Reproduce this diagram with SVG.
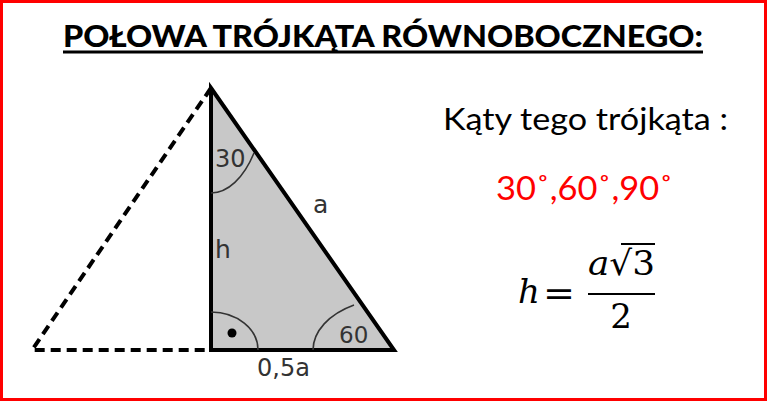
<svg xmlns="http://www.w3.org/2000/svg" width="767" height="402" viewBox="0 0 767 402">
<style>
.lbl{font-family:"DejaVu Sans",Verdana,sans-serif;fill:#333;}
.arc{fill:none;stroke:#333;stroke-width:1.6;}
.dash{fill:none;stroke:#000;stroke-width:4;stroke-dasharray:10 6;}
.txt{font-family:Lato,"Open Sans",sans-serif;}
.math{font-family:"DejaVu Serif","Liberation Serif",serif;font-size:34px;fill:#000;}
</style>
<rect x="1.5" y="1.5" width="764" height="398" fill="#fff" stroke="#ff0000" stroke-width="3"/>
<g id="title">
<text class="txt" x="63" y="47" font-size="31" font-weight="900" textLength="640" lengthAdjust="spacingAndGlyphs">POŁOWA TRÓJKĄTA RÓWNOBOCZNEGO:</text>
<line x1="63" y1="52" x2="703" y2="52" stroke="#000" stroke-width="3"/>
</g>
<g id="connectors">
<path class="dash" d="M211,88 L32,350 L211,350"/>
</g>
<g id="triangle">
<polygon points="211,88 394,350 211,350" fill="#c8c8c8" stroke="#000" stroke-width="4" stroke-linejoin="miter"/>
<path class="arc" d="M211,193 A55,105 0 0,0 254,153"/>
<path class="arc" d="M211,312 A47,38 0 0,1 258,350"/>
<path class="arc" d="M313,350 A80,52 0 0,1 354,305"/>
<circle cx="232" cy="333" r="4.5" fill="#000"/>
<text class="lbl" x="215" y="167" font-size="24">30</text>
<text class="lbl" x="313" y="213" font-size="25">a</text>
<text class="lbl" x="215" y="258" font-size="25">h</text>
<text class="lbl" x="339" y="343" font-size="23">60</text>
<text class="lbl" x="257" y="376" font-size="24">0,5a</text>
</g>
<g id="angles-text">
<text class="txt" x="443" y="130" font-size="31" fill="#000" textLength="285" lengthAdjust="spacingAndGlyphs">Kąty tego trójkąta :</text>
<text class="txt" x="496" y="200" font-size="32" fill="#ff0000" textLength="177" lengthAdjust="spacingAndGlyphs">30˚,60˚,90˚</text>
</g>
<g id="formula">
<text class="math" x="529" y="303" text-anchor="middle" font-style="italic">h</text>
<text class="math" x="543" y="305" font-size="40" textLength="32" lengthAdjust="spacingAndGlyphs">=</text>
<text class="math" x="588" y="275" textLength="67" lengthAdjust="spacingAndGlyphs"><tspan font-style="italic">a</tspan>√3</text>
<line x1="621" y1="244" x2="655" y2="244" stroke="#000" stroke-width="2"/>
<line x1="588" y1="294" x2="655" y2="294" stroke="#000" stroke-width="2"/>
<text class="math" x="621" y="328" text-anchor="middle">2</text>
</g>
</svg>
